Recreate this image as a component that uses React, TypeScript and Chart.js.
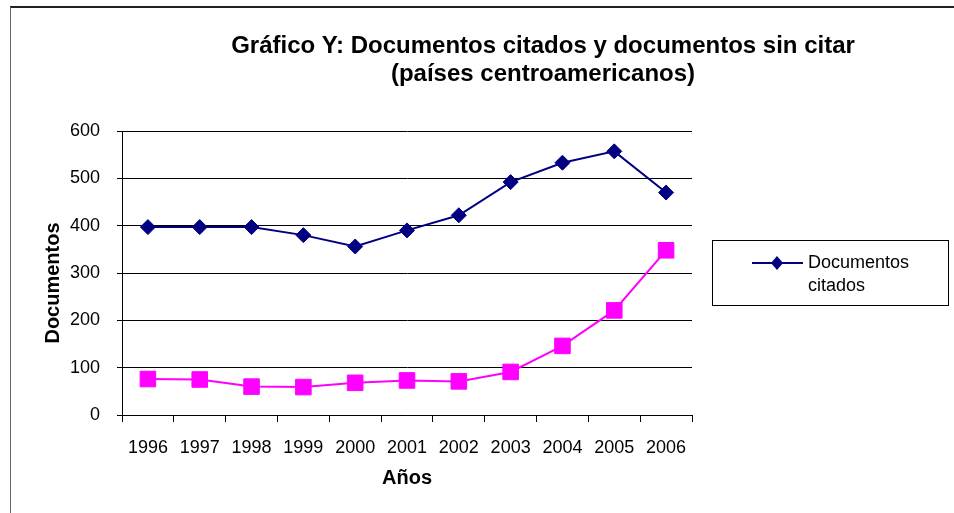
import React, { useEffect, useRef } from "react";
import { Chart, registerables } from "chart.js";

Chart.register(...registerables);

const years = ["1996", "1997", "1998", "1999", "2000", "2001", "2002", "2003", "2004", "2005", "2006"];
const citados = [397, 397, 397, 380, 356, 390, 422, 492, 533, 557, 470];
const sinCitar = [76, 75, 60, 59, 68, 73, 71, 91, 146, 221, 348];
const yMin = 0;
const yMax = 600;
const yStep = 100;
const titleLines = ["Gráfico Y: Documentos citados y documentos sin citar", "(países centroamericanos)"];
const xAxisTitle = "Años";
const yAxisTitle = "Documentos";
const legendLines = ["Documentos", "citados"];
const seriesNames = ["Documentos citados", "Documentos sin citar"];

const FONT = "'Liberation Sans', Arial, sans-serif";
const NAVY = "#000080";
const MAGENTA = "#FF00FF";

const decorPlugin = {
  id: "decor",
  afterDraw(chart: any) {
    const ctx: CanvasRenderingContext2D = chart.ctx;
    ctx.save();
    // outer frame (partial)
    ctx.strokeStyle = "#222";
    ctx.lineWidth = 2;
    ctx.beginPath();
    ctx.moveTo(10, 7);
    ctx.lineTo(954, 7);
    ctx.stroke();
    ctx.strokeStyle = "#666";
    ctx.lineWidth = 1;
    ctx.beginPath();
    ctx.moveTo(10.5, 7);
    ctx.lineTo(10.5, 513);
    ctx.stroke();

    // title
    ctx.fillStyle = "#000";
    ctx.font = `bold 24px ${FONT}`;
    ctx.textAlign = "center";
    ctx.textBaseline = "middle";
    ctx.fillText(titleLines[0], 543, 46);
    ctx.fillText(titleLines[1], 543, 74);

    // y axis title
    ctx.save();
    ctx.translate(53, 283);
    ctx.rotate(-Math.PI / 2);
    ctx.font = `bold 20px ${FONT}`;
    ctx.textAlign = "center";
    ctx.textBaseline = "middle";
    ctx.fillText(yAxisTitle, 0, 0);
    ctx.restore();

    // legend
    ctx.strokeStyle = "#000";
    ctx.lineWidth = 1;
    ctx.strokeRect(712.5, 240.5, 236, 65);
    ctx.strokeStyle = NAVY;
    ctx.lineWidth = 2;
    ctx.beginPath();
    ctx.moveTo(752, 263);
    ctx.lineTo(803, 263);
    ctx.stroke();
    ctx.fillStyle = NAVY;
    ctx.beginPath();
    ctx.moveTo(777, 256);
    ctx.lineTo(783, 263);
    ctx.lineTo(777, 270);
    ctx.lineTo(771, 263);
    ctx.closePath();
    ctx.fill();
    ctx.fillStyle = "#000";
    ctx.font = `18px ${FONT}`;
    ctx.textAlign = "left";
    ctx.textBaseline = "middle";
    ctx.fillText(legendLines[0], 808, 263);
    ctx.fillText(legendLines[1], 808, 286);
    ctx.restore();
  },
};

export default function App() {
  const ref = useRef<HTMLCanvasElement | null>(null);
  useEffect(() => {
    document.body.style.margin = "0";
    const canvas = ref.current;
    if (!canvas) return;
    const chart = new Chart(canvas, {
      type: "line",
      data: {
        labels: years,
        datasets: [
          {
            label: seriesNames[0],
            data: citados,
            borderColor: NAVY,
            backgroundColor: NAVY,
            borderWidth: 2,
            pointStyle: "rectRot",
            pointRadius: 7.5,
            pointBorderWidth: 1,
            tension: 0,
          },
          {
            label: seriesNames[1],
            data: sinCitar,
            borderColor: MAGENTA,
            backgroundColor: MAGENTA,
            borderWidth: 2,
            pointStyle: "rect",
            pointRadius: 11,
            pointBorderWidth: 1,
            tension: 0,
          },
        ],
      },
      options: {
        responsive: false,
        animation: false,
        layout: { padding: { left: 0, right: 262, top: 131, bottom: 0 } },
        plugins: {
          legend: { display: false },
          title: { display: false },
          tooltip: { enabled: false },
        },
        scales: {
          x: {
            offset: true,
            grid: {
              offset: true,
              drawOnChartArea: false,
              drawTicks: true,
              tickLength: 7,
              color: "#000",
            },
            border: { color: "#000", width: 1 },
            ticks: {
              padding: 15,
              color: "#000",
              font: { family: FONT, size: 18 },
              maxRotation: 0,
              autoSkip: false,
            },
            title: {
              display: true,
              text: xAxisTitle,
              color: "#000",
              font: { family: FONT, size: 20, weight: "bold" },
              padding: { top: 0, bottom: 23 },
            },
            afterFit: (s: any) => {
              s.height = 98;
            },
          },
          y: {
            min: yMin,
            max: yMax,
            ticks: {
              stepSize: yStep,
              padding: 17,
              color: "#000",
              font: { family: FONT, size: 18 },
            },
            grid: { color: "#000", tickLength: 5, lineWidth: 1 },
            border: { color: "#000", width: 1 },
            afterFit: (s: any) => {
              s.width = 122;
            },
          },
        },
      },
      plugins: [decorPlugin],
    } as any);
    return () => chart.destroy();
  }, []);
  return (
    <div style={{ width: 954, height: 513, background: "#fff" }}>
      <canvas ref={ref} width={954} height={513} style={{ display: "block" }} />
    </div>
  );
}
